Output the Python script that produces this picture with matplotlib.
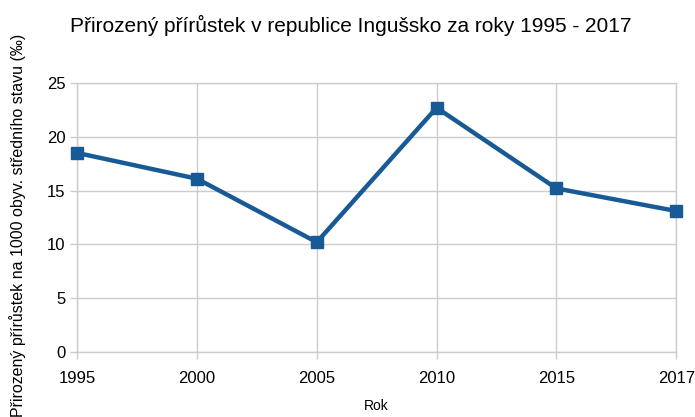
import numpy as np
import matplotlib.pyplot as plt

# data
years = ['1995', '2000', '2005', '2010', '2015', '2017']
values = [18.5, 16.1, 10.2, 22.7, 15.2, 13.1]
yticks = [0, 5, 10, 15, 20, 25]

plt.rcParams['font.family'] = ['Liberation Sans', 'DejaVu Sans']

fig = plt.figure(figsize=(6.95, 4.17), dpi=100)
ax = fig.add_axes([0.111, 0.156, 0.862, 0.645])

x = np.arange(len(years))
ax.plot(x, values, color='#175a96', linewidth=3.2, marker='s',
        markersize=9, markerfacecolor='#175a96', markeredgecolor='#175a96',
        zorder=3, clip_on=False)

ax.set_xlim(0, len(years) - 1)
ax.set_ylim(0, 25)
ax.set_xticks(x)
ax.set_xticklabels(years)
ax.set_yticks(yticks)

ax.grid(True, color='#cccccc', linewidth=1)
ax.set_axisbelow(True)
for s in ax.spines.values():
    s.set_color('#cccccc')
    s.set_linewidth(1)
ax.tick_params(axis='both', colors='#cccccc', labelcolor='black',
               labelsize=12, length=5, width=1)
ax.tick_params(axis='x', pad=9)

ax.set_xlabel('Rok', fontsize=10)
ax.xaxis.set_label_coords(0.5, -0.175)
ax.set_ylabel('Přirozený přírůstek na 1000 obyv. středního stavu (‰)',
              fontsize=11.5)
ax.yaxis.set_label_coords(-0.086, 0.47)

fig.text(0.1, 0.94, 'Přirozený přírůstek v republice Ingušsko za roky 1995 - 2017',
         fontsize=15, ha='left', va='center')

fig.savefig('out.png', dpi=100)
